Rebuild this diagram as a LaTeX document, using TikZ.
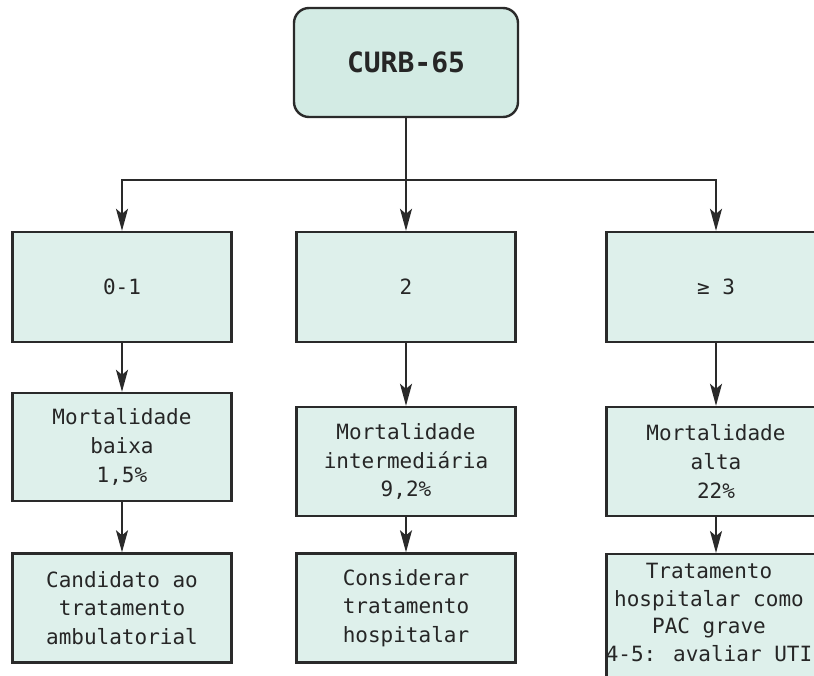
\documentclass[tikz,border=0pt]{standalone}
\usepackage{fontspec}
\newfontfamily\plexmono{DejaVu Sans Mono}
\usetikzlibrary{arrows.meta}
\definecolor{headfill}{HTML}{D3EBE4}
\definecolor{boxfill}{HTML}{DEF0EB}
\definecolor{edge}{HTML}{2A2A2A}
\begin{document}
\begin{tikzpicture}[x=1pt,y=-1pt,
  txt/.style={font=\plexmono\fontsize{21}{28.8}\selectfont,text=black!85,align=center},
  cell/.style={txt,draw=edge,line width=2.4pt,fill=boxfill,minimum width=219pt,inner sep=0pt},
  head/.style={cell,fill=headfill,rounded corners=15pt,minimum width=224pt,
    minimum height=109pt,font=\plexmono\bfseries\fontsize{28}{30}\selectfont},
  link/.style={draw=edge,line width=1.8pt},
  arr/.style={link,-{Stealth[length=22pt,width=12pt,inset=5pt]}}]
\useasboundingbox (0,0) rectangle (814,675);
\clip (0,0) rectangle (814,675);
\fill[white] (0,0) rectangle (814,675);

% score header
\node[head] (top) at (406,62.5) {CURB-65};

% score bands
\node[cell,minimum height=110pt] (a1) at (122,287) {0-1};
\node[cell,minimum height=110pt] (a2) at (406,287) {2};
\node[cell,minimum height=110pt] (a3) at (716,287) {≥ 3};

% mortality
\node[cell,minimum height=108pt] (b1) at (122,447) {Mortalidade\\baixa\\1,5\%};
\node[cell,minimum height=109pt] (b2) at (406,461.5) {Mortalidade\\intermediária\\9,2\%};
\node[cell,minimum height=109pt] (b3) at (716,461.5) {Mortalidade\\alta\\22\%};

% management
\node[cell,minimum height=109pt] (c1) at (122,608) {Candidato ao\\tratamento\\ambulatorial};
\node[cell,minimum height=109pt] (c2) at (406,608) {Considerar\\tratamento\\hospitalar};
\node[cell,minimum height=134pt,anchor=north] (c3) at (716,553) {};
\node[txt,anchor=north,inner sep=0pt,font=\plexmono\fontsize{21}{27.5}\selectfont]
  (c3t) at (709,563) {Tratamento\\hospitalar como\\PAC grave\\4-5: avaliar UTI};

% branching connectors
\coordinate (j) at (406,180);
\draw[link] (top.south) -- (j);
\draw[arr] (j) -- (a2);
\draw[arr] (j) -| (a1);
\draw[arr] (j) -| (a3);

\draw[arr] (a1) -- (b1);
\draw[arr] (a2) -- (b2);
\draw[arr] (a3) -- (b3);
\draw[arr] (b1) -- (c1);
\draw[arr] (b2) -- (c2);
\draw[arr] (b3) -- (c3);
\end{tikzpicture}
\end{document}
